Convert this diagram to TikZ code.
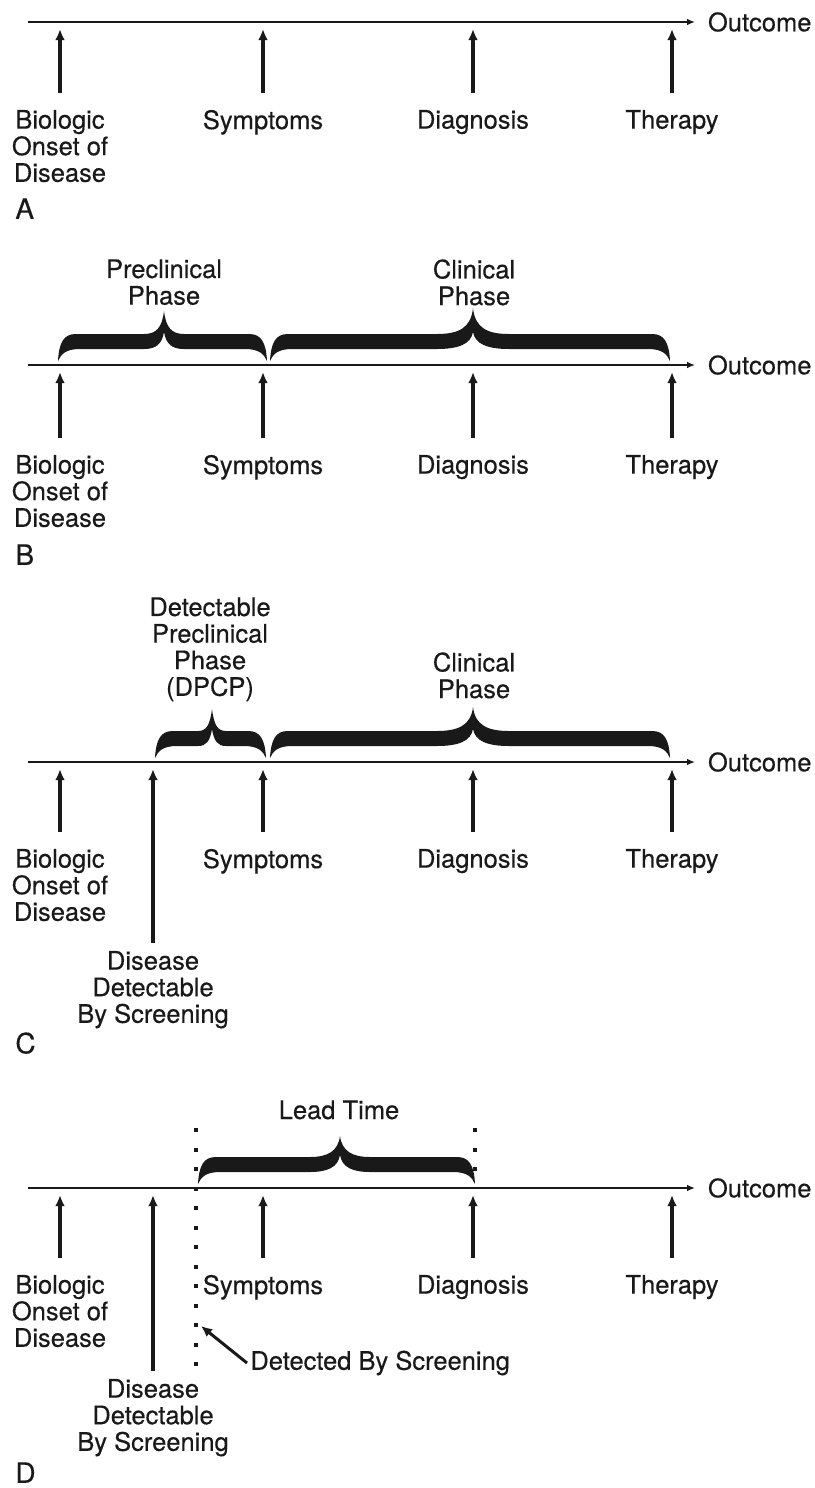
\documentclass[tikz,border=0pt]{standalone}
\usepackage{fontspec}
\setmainfont{TeX Gyre Heros}[FakeBold=0.4]
\usetikzlibrary{arrows.meta}

\colorlet{ink}{black!90}

% Filled curly brace standing on a time line.
% #1 left end x, #2 tip x, #3 right end x, #4 time line y, #5 tip y, #6 half width of the tip swell
\newcommand\phasebrace[6]{%
  \fill[ink] (#1,#4-4)
    .. controls (#1+1,#4-23) and (#1+6,#4-31) .. (#1+18,#4-31)
    -- (#2-#6,#4-31)
    .. controls (#2-0.4*#6,#4-31) and (#2-2,#4-37) .. (#2,#5)
    .. controls (#2+2,#4-37) and (#2+0.4*#6,#4-31) .. (#2+#6,#4-31)
    -- (#3-18,#4-31)
    .. controls (#3-6,#4-31) and (#3-1,#4-23) .. (#3,#4-4)
    .. controls (#3-3,#4-11) and (#3-8,#4-16) .. (#3-22,#4-16)
    -- (#2+#6,#4-16)
    .. controls (#2+0.4*#6,#4-16) and (#2+2,#4-21) .. (#2,#4-33)
    .. controls (#2-2,#4-21) and (#2-0.4*#6,#4-16) .. (#2-#6,#4-16)
    -- (#1+22,#4-16)
    .. controls (#1+8,#4-16) and (#1+3,#4-11) .. (#1,#4-4) -- cycle;}

% One time line with its four events.
% #1 tag, #2 time line y, #3 y of the lower ends of the event arrows
\newcommand\eventrow[3]{%
  \coordinate (start#1) at (28,#2);
  \coordinate (tip#1) at (0,#2+7);
  \node[endlbl] (out#1) at (695,#2) {Outcome};
  \draw[axis] (start#1) -- (out#1);
  \node[lbl] (bio#1) at (60,#3) {Biologic\\Onset of\\Disease};
  \node[lbl] (sym#1) at (263,#3) {Symptoms};
  \node[lbl] (dia#1) at (473,#3) {Diagnosis};
  \node[lbl] (the#1) at (672,#3) {Therapy};
  \draw[evt] (bio#1) -- (bio#1 |- tip#1);
  \draw[evt] (sym#1) -- (sym#1 |- tip#1);
  \draw[evt] (dia#1) -- (dia#1 |- tip#1);
  \draw[evt] (the#1) -- (the#1 |- tip#1);}

\begin{document}
\begin{tikzpicture}[x=0.5pt,y=-0.5pt,
  every node/.style={font=\fontsize{12.75}{13.3}\selectfont, text=ink, inner sep=0pt},
  axis/.style={line width=1pt, draw=ink, -{Latex[length=4pt,width=3.4pt]}},
  evt/.style={line width=1.75pt, draw=ink, -{Latex[length=5.5pt,width=4.8pt]}},
  ptr/.style={line width=1.5pt, draw=ink, -{Latex[length=5.5pt,width=5pt]}},
  lbl/.style={anchor=north, align=center, outer sep=8.5pt},
  detlbl/.style={anchor=north, align=center, outer sep=4pt},
  endlbl/.style={anchor=west, outer sep=6.5pt},
  phase/.style={anchor=north, align=center},
  panel/.style={anchor=north west, font=\fontsize{14}{16}\selectfont},
  dots/.style={draw=ink, line width=2pt, dash pattern=on 2pt off 7.75pt}]
\useasboundingbox (0,0) rectangle (814,1488);

% ---- A: natural history ----
\eventrow{A}{22}{93}
\node[panel] (pA) at (15,198) {A};

% ---- B: preclinical and clinical phases ----
\node[phase] (preB) at (164,259) {Preclinical\\Phase};
\node[phase] (cliB) at (474,259) {Clinical\\Phase};
\phasebrace{58}{164}{267}{365}{311}{20}
\phasebrace{270}{473}{670}{365}{308}{36}
\eventrow{B}{365}{438}
\node[panel] (pB) at (15,544) {B};

% ---- C: detectable preclinical phase ----
\node[phase] (dpcC) at (210,597) {Detectable\\Preclinical\\Phase\\(DPCP)};
\node[phase] (cliC) at (474,652) {Clinical\\Phase};
\phasebrace{155}{212}{266}{762}{709}{14}
\phasebrace{270}{473}{670}{762}{707}{36}
\eventrow{C}{762}{832}
\node[detlbl] (detC) at (153,943) {Disease\\Detectable\\By Screening};
\draw[evt] (detC) -- (detC |- tipC);
\node[panel] (pC) at (15,1032) {C};

% ---- D: lead time ----
\node[phase] (leadD) at (339,1100) {Lead Time};
\coordinate (scrTop) at (196,1128);
\coordinate (scrBot) at (196,1366);
\coordinate (diaTop) at (475,1128);
\coordinate (diaBot) at (475,1171);
\draw[dots] (scrTop) -- (scrBot);
\draw[dots] (diaTop) -- (diaBot);
\phasebrace{198}{340}{475}{1188}{1136}{30}
\eventrow{D}{1188}{1258}
\node[detlbl] (detD) at (153,1371) {Disease\\Detectable\\By Screening};
\draw[evt] (detD) -- (detD |- tipD);
\node[anchor=west, inner sep=1.5pt] (found) at (247,1363) {Detected By Screening};
\coordinate (foundTip) at (201,1326);
\draw[ptr] (found.west) -- (foundTip);
\node[panel] (pD) at (15,1462) {D};
\end{tikzpicture}
\end{document}
